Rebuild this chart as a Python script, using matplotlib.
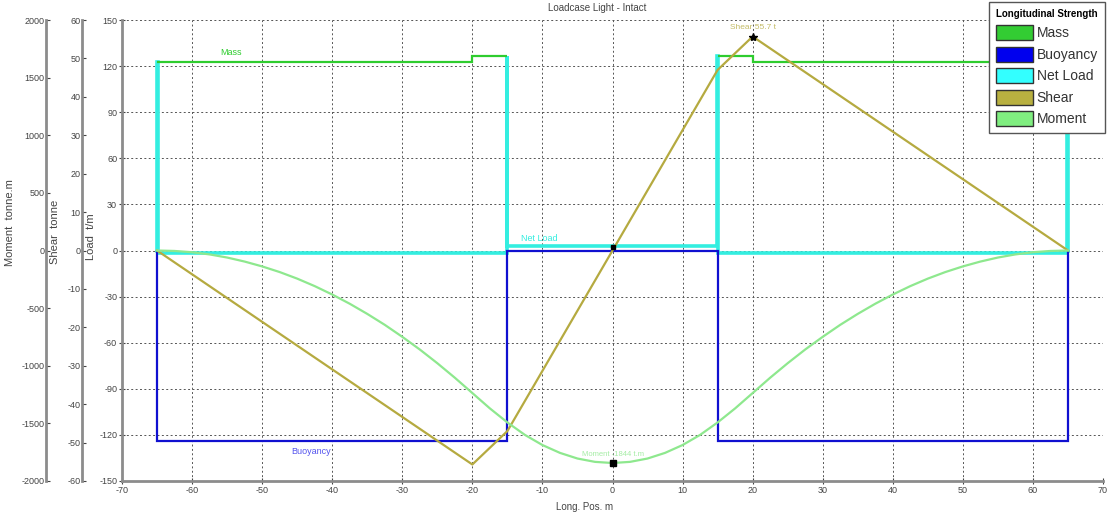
import matplotlib
matplotlib.use("Agg")
import matplotlib.pyplot as plt
from matplotlib.patches import Patch

plt.rcParams['font.family'] = ['Liberation Sans', 'DejaVu Sans']
plt.rcParams['axes.unicode_minus'] = False

# ---------------- data ----------------
mass_left_edges = [-65, -20, -15]
mass_left_vals = [122.5, 126.5]
mass_right_edges = [15, 20, 65]
mass_right_vals = [126.5, 122.5]

buoy_edges = [-65, -15, 15, 65]
buoy_vals = [-124, 0, -124]

net_x = [-65.0, -65.0, -64.9, -64.9, -15.1, -15.1, -15.0, -15.0,
         14.9, 14.9, 15.1, 15.1, 64.9, 64.9, 65.0, 65.0]
net_v = [0, 122.5, 122.5, -1.5, -1.5, 126.5, 126.5, 3,
         3, 126.5, 126.5, -1.5, -1.5, 122.5, 122.5, 0]

shear_x = [-65, -20, -15, 15, 20, 65]
shear_v = [0, -55.7, -47, 47, 55.7, 0]

moment_x = [-65, -62.5, -60, -57.5, -55, -52.5, -50, -47.5, -45, -42.5, -40, -37.5,
            -35, -32.5, -30, -27.5, -25, -22.5, -20, -17.5, -15, -12.5, -10, -7.5,
            -5, -2.5, 0, 2.5, 5, 7.5, 10, 12.5, 15, 17.5, 20, 22.5, 25, 27.5, 30,
            32.5, 35, 37.5, 40, 42.5, 45, 47.5, 50, 52.5, 55, 57.5, 60, 62.5, 65]
moment_v = [0, -4, -15, -34, -61, -96, -138, -187, -244, -309, -382, -462,
            -550, -645, -749, -859, -978, -1104, -1237, -1370, -1492, -1600, -1688, -1756,
            -1805, -1834, -1844, -1834, -1805, -1756, -1688, -1600, -1492, -1370, -1237, -1104,
            -978, -859, -749, -645, -550, -462, -382, -309, -244, -187, -138, -96, -61,
            -34, -15, -4, 0]

shear_max_x, shear_max_v = 20, 55.7
moment_min_x, moment_min_v = 0, -1844

x_ticks = list(range(-70, 71, 10))
load_ticks = list(range(-150, 151, 30))
shear_ticks = list(range(-60, 61, 10))
moment_ticks = list(range(-2000, 2001, 500))

# ---------------- colors ----------------
c_mass = '#2ecc2e'
c_buoy = '#1010d0'
c_net = '#33eee0'
c_shear = '#b5aa40'
c_moment = '#8ee88e'
c_spine = '#8c8c8c'
c_text = '#444444'

fig = plt.figure(figsize=(11.1, 5.14), dpi=100)
L, R, T, B = 122, 1103, 20, 481
W, H = 1110, 514
ax = fig.add_axes([L / W, 1 - B / H, (R - L) / W, (B - T) / H])
ax_s = ax.twinx()
ax_m = ax.twinx()

ax.set_xlim(-70, 70)
ax.set_ylim(-150, 150)
ax_s.set_ylim(-60, 60)
ax_m.set_ylim(-2000, 2000)

# grid
ax.set_xticks(x_ticks)
ax.set_yticks(load_ticks)
ax.grid(True, color='#555555', linestyle=(0, (2, 2.5)), linewidth=0.7)

# series
ax.plot(net_x, net_v, color=c_net, linewidth=2.6, zorder=3, solid_joinstyle='miter')
ax.stairs(buoy_vals, buoy_edges, baseline=0, color=c_buoy, linewidth=1.6, zorder=4)
ax.stairs(mass_left_vals, mass_left_edges, baseline=None, color=c_mass, linewidth=1.6, zorder=5)
ax.stairs(mass_right_vals, mass_right_edges, baseline=None, color=c_mass, linewidth=1.6, zorder=5)

ax_s.plot(shear_x, shear_v, color=c_shear, linewidth=1.6, zorder=3)
ax_s.plot([shear_max_x], [shear_max_v], marker='*', color='black', markersize=6, zorder=6)
ax_s.plot([0], [1], marker='s', color='black', markersize=3.5, zorder=6)
ax_m.plot(moment_x, moment_v, color=c_moment, linewidth=1.6, zorder=3)
ax_m.plot([moment_min_x], [moment_min_v], marker='s', color='black', markersize=4, zorder=6)

# inline labels
ax.text(-54.5, 126, 'Mass', color=c_mass, fontsize=6.5, ha='center', va='bottom')
ax.text(-43, -128, 'Buoyancy', color='#5555ee', fontsize=6.5, ha='center', va='top')
ax.text(-10.5, 5, 'Net Load', color=c_net, fontsize=6.5, ha='center', va='bottom')
ax_s.text(shear_max_x, shear_max_v + 1.5, 'Shear 55.7 t', color=c_shear, fontsize=6,
          ha='center', va='bottom', alpha=0.8)
ax_m.text(moment_min_x, moment_min_v + 40, 'Moment -1844 t.m', color=c_moment, fontsize=5.5,
          ha='center', va='bottom', alpha=0.8)

# axes styling
for a in (ax, ax_s, ax_m):
    for s in a.spines.values():
        s.set_visible(False)

ax.spines['left'].set_visible(True)
ax.spines['bottom'].set_visible(True)
ax.spines['left'].set_color(c_spine)
ax.spines['bottom'].set_color(c_spine)
ax.spines['left'].set_linewidth(2)
ax.spines['bottom'].set_linewidth(2)
ax.tick_params(axis='both', labelsize=6.5, colors=c_text, direction='inout', length=5, width=0.8,
               pad=1)
ax.set_xticklabels([str(t) for t in x_ticks])

for a, pos, ticks in ((ax_s, -40 / (R - L), shear_ticks), (ax_m, -76 / (R - L), moment_ticks)):
    a.yaxis.set_ticks_position('left')
    a.yaxis.set_label_position('left')
    a.spines['left'].set_visible(True)
    a.spines['left'].set_position(('axes', pos))
    a.spines['left'].set_color(c_spine)
    a.spines['left'].set_linewidth(2)
    a.set_yticks(ticks)
    a.tick_params(axis='y', labelsize=6.5, colors=c_text, direction='in', length=3, width=0.8, pad=1)

ax.set_ylabel('Load  t/m', fontsize=8, color=c_text)
ax.yaxis.set_label_coords((96 - L) / (R - L), 0.53)
ax_s.set_ylabel('Shear  tonne', fontsize=8, color=c_text)
ax_s.yaxis.set_label_coords((60 - L) / (R - L), 0.54)
ax_m.set_ylabel('Moment  tonne.m', fontsize=8, color=c_text)
ax_m.yaxis.set_label_coords((15 - L) / (R - L), 0.56)

ax.set_xlabel('Long. Pos. m', fontsize=7, color=c_text)
ax.xaxis.set_label_coords((585 - L) / (R - L), -0.045)
fig.text(597 / W, 1 - 8 / H, 'Loadcase Light - Intact', fontsize=7, color=c_text,
         ha='center', va='center')

# legend
handles = [Patch(facecolor=c, edgecolor='#333333', linewidth=1.0) for c in
           ('#33cc33', '#0000ee', '#33ffff', '#b8b040', '#80ee80')]
labels = ['Mass', 'Buoyancy', 'Net Load', 'Shear', 'Moment']
leg = ax_m.legend(handles, labels, title='Longitudinal Strength', loc='upper right',
                  bbox_to_anchor=(1105 / W, 1 - 2 / H), bbox_transform=fig.transFigure,
                  fontsize=10, title_fontproperties={'weight': 'bold', 'size': 7},
                  handlelength=2.6, handleheight=1.3, handletextpad=0.3, labelspacing=0.45,
                  borderpad=0.5, fancybox=False, framealpha=1, edgecolor='#555555',
                  borderaxespad=0)
for t in leg.get_texts():
    t.set_color('#333333')
leg.set_zorder(20)

fig.savefig('out.png', dpi=100)
